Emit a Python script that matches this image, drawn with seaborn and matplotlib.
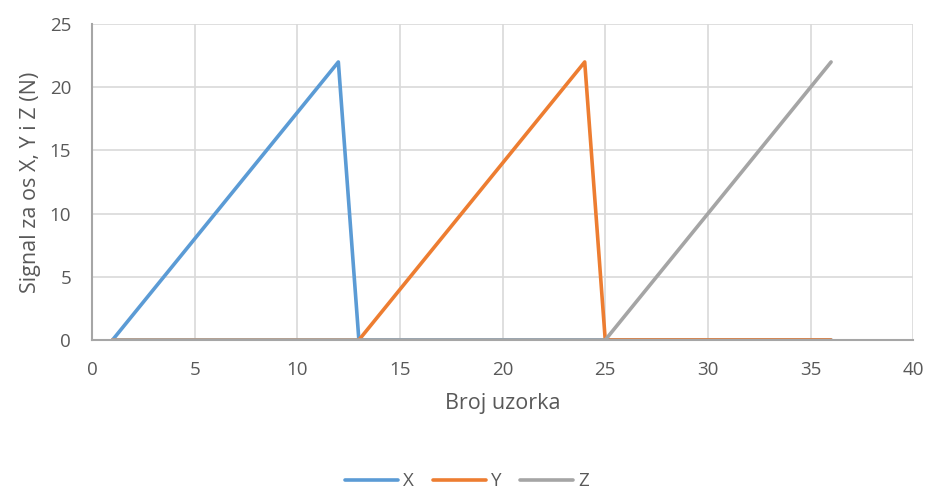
import matplotlib
matplotlib.use("Agg")
import matplotlib.pyplot as plt
import seaborn as sns
import pandas as pd
import numpy as np

# sample numbers and the three signals (N)
samples = list(range(1, 37))
sig_x = [0, 2, 4, 6, 8, 10, 12, 14, 16, 18, 20, 22] + [0] * 24
sig_y = [0] * 12 + [0, 2, 4, 6, 8, 10, 12, 14, 16, 18, 20, 22] + [0] * 12
sig_z = [0] * 24 + [0, 2, 4, 6, 8, 10, 12, 14, 16, 18, 20, 22]

series_names = ["X", "Y", "Z"]
colors = ["#5B9BD5", "#ED7D31", "#A5A5A5"]

df = pd.DataFrame({
    "Broj uzorka": samples * 3,
    "Signal": sig_x + sig_y + sig_z,
    "os": ["X"] * 36 + ["Y"] * 36 + ["Z"] * 36,
})

sns.set_theme(style="white")
plt.rcParams["font.family"] = ["Open Sans", "DejaVu Sans"]
text_col = "#595959"

fig = plt.figure(figsize=(9.29, 4.91), dpi=100)
ax = fig.add_axes([0.099, 0.3075, 0.884, 0.6435])

sns.lineplot(data=df, x="Broj uzorka", y="Signal", hue="os", hue_order=series_names,
             palette=colors, linewidth=2.6, ax=ax, legend=False)

ax.set_xlim(0, 40)
ax.set_ylim(0, 25)
ax.set_xticks(np.arange(0, 41, 5))
ax.set_yticks(np.arange(0, 26, 5))
ax.grid(True, color="#D9D9D9", linewidth=1.2)
ax.set_axisbelow(True)
for side in ["top", "right"]:
    ax.spines[side].set_visible(False)
for side in ["left", "bottom"]:
    ax.spines[side].set_color("#A6A6A6")
    ax.spines[side].set_linewidth(1.5)
ax.tick_params(axis="both", length=0, labelsize=13.5, colors=text_col, pad=15)

ax.set_xlabel("Broj uzorka", fontsize=15.5, color=text_col, labelpad=10)
ax.set_ylabel("Signal za os X, Y i Z (N)", fontsize=15.5, color=text_col, labelpad=6)

handles = [plt.Line2D([], [], color=c, linewidth=2.6) for c in colors]
fig.legend(handles, series_names, loc="center", bbox_to_anchor=(0.503, 0.02),
           ncol=3, frameon=False, fontsize=13.5, labelcolor=text_col,
           handlelength=2.8, handletextpad=0.3, columnspacing=1.0)

fig.savefig("out.png", dpi=100)
